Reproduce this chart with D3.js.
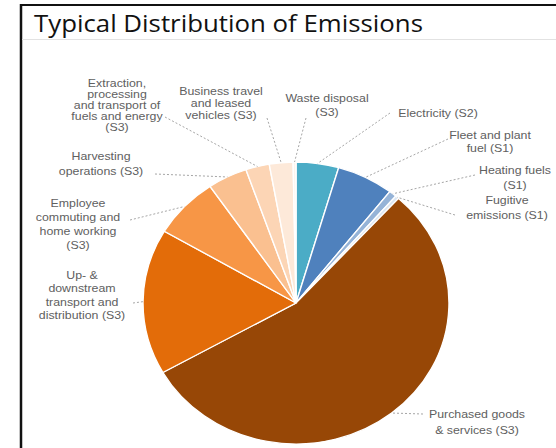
<!DOCTYPE html>
<html>
<head>
<meta charset="utf-8">
<script src="https://cdn.jsdelivr.net/npm/d3@7"></script>
<style>
  body { margin: 0; background: #fff; }
  svg { display: block; }
</style>
</head>
<body>
<svg id="chart" width="556" height="448"></svg>
<script>
// data, clockwise from 12 o'clock
const categories = [
  'Electricity (S2)',
  'Fleet and plant fuel (S1)',
  'Heating fuels (S1)',
  'Fugitive emissions (S1)',
  'Purchased goods & services (S3)',
  'Up- & downstream transport and distribution (S3)',
  'Employee commuting and home working (S3)',
  'Harvesting operations (S3)',
  'Extraction, processing and transport of fuels and energy (S3)',
  'Business travel and leased vehicles (S3)',
  'Waste disposal (S3)'
];
const shares = [4.5, 6.0, 0.8, 0.4, 55.1, 16.7, 7.0, 4.2, 2.5, 2.5, 0.3];
const colors = ['#4bacc6', '#4f81bd', '#95b3d7', '#dce6f2', '#974706', '#e36c09',
                '#f79646', '#fac090', '#fcd5b5', '#fde9d9', '#fef4ec'];

// label text, broken the way the chart breaks it
const labelLines = [
  ['Electricity (S2)'],
  ['Fleet and plant', 'fuel (S1)'],
  ['Heating fuels', '(S1)'],
  ['Fugitive', 'emissions (S1)'],
  ['Purchased goods', '& services (S3)'],
  ['Up- &', 'downstream', 'transport and', 'distribution (S3)'],
  ['Employee', 'commuting and', 'home working', '(S3)'],
  ['Harvesting', 'operations (S3)'],
  ['Extraction,', 'processing', 'and transport of', 'fuels and energy', '(S3)'],
  ['Business travel', 'and leased', 'vehicles (S3)'],
  ['Waste disposal', '(S3)']
];

// layout: text centre x, first line centre y, line step, leader start
const labelLayout = [
  { x: 438, y: 113, step: 13, lx: 390, ly: 113 },
  { x: 490, y: 135, step: 13, lx: 448, ly: 139 },
  { x: 515, y: 170, step: 15, lx: 475, ly: 175 },
  { x: 507, y: 200, step: 15, lx: 455, ly: 215 },
  { x: 477, y: 414, step: 16, lx: 423, ly: 414 },
  { x: 82, y: 275, step: 13.5, lx: 133, ly: 303 },
  { x: 78, y: 203, step: 14, lx: 130, ly: 220 },
  { x: 101, y: 156, step: 15, lx: 155, ly: 174 },
  { x: 117, y: 83, step: 11, lx: 165, ly: 117 },
  { x: 221, y: 91, step: 12, lx: 267, ly: 118 },
  { x: 327, y: 98, step: 14, lx: 306, ly: 118 }
];

const svg = d3.select('#chart');
const W = 556, H = 448;

// frame and title
svg.append('line').attr('x1', 20).attr('x2', W).attr('y1', 5).attr('y2', 5)
   .attr('stroke', '#111').attr('stroke-width', 2);
svg.append('line').attr('x1', 21).attr('x2', 21).attr('y1', 4).attr('y2', H)
   .attr('stroke', '#111').attr('stroke-width', 2.5);
svg.append('line').attr('x1', 22).attr('x2', W).attr('y1', 39.5).attr('y2', 39.5)
   .attr('stroke', '#e2e2e2').attr('stroke-width', 1);
svg.append('text')
   .attr('x', 34).attr('y', 32)
   .attr('textLength', 389).attr('lengthAdjust', 'spacingAndGlyphs')
   .style('font-family', '"Open Sans", Lato, sans-serif')
   .style('font-size', '23px').attr('fill', '#111')
   .text('Typical Distribution of Emissions');

// pie (slightly wider than tall, as in the picture)
const cx = 296, cy = 303, r = 141, sx = 1.085;

const pie = d3.pie().sort(null).value(d => d.v);
const arcs = pie(categories.map((c, i) => ({ c, v: shares[i], col: colors[i] })));
const arc = d3.arc().innerRadius(0).outerRadius(r);
const rim = d3.arc().innerRadius(r).outerRadius(r);

const g = svg.append('g').attr('transform', `translate(${cx},${cy}) scale(${sx},1)`);
g.selectAll('path').data(arcs).enter().append('path')
  .attr('d', arc)
  .attr('fill', d => d.data.col)
  .attr('stroke', '#fff')
  .attr('stroke-width', 1.3);

// leader lines
arcs.forEach((d, i) => {
  const p = rim.centroid(d);
  const L = labelLayout[i];
  svg.append('line')
    .attr('x1', L.lx).attr('y1', L.ly)
    .attr('x2', cx + p[0] * sx).attr('y2', cy + p[1])
    .attr('stroke', '#a6a6a6').attr('stroke-width', 1)
    .attr('stroke-dasharray', '2,2');
});

// labels
const labels = svg.append('g')
  .style('font-family', '"Liberation Sans", Arial, sans-serif')
  .style('font-size', '10.3px')
  .attr('fill', '#606060');

labelLines.forEach((lines, i) => {
  const L = labelLayout[i];
  lines.forEach((t, k) => {
    labels.append('text')
      .attr('transform', `translate(${L.x},${L.y + k * L.step + 3.5}) scale(1.2,1)`)
      .attr('text-anchor', 'middle')
      .text(t);
  });
});
</script>
</body>
</html>
